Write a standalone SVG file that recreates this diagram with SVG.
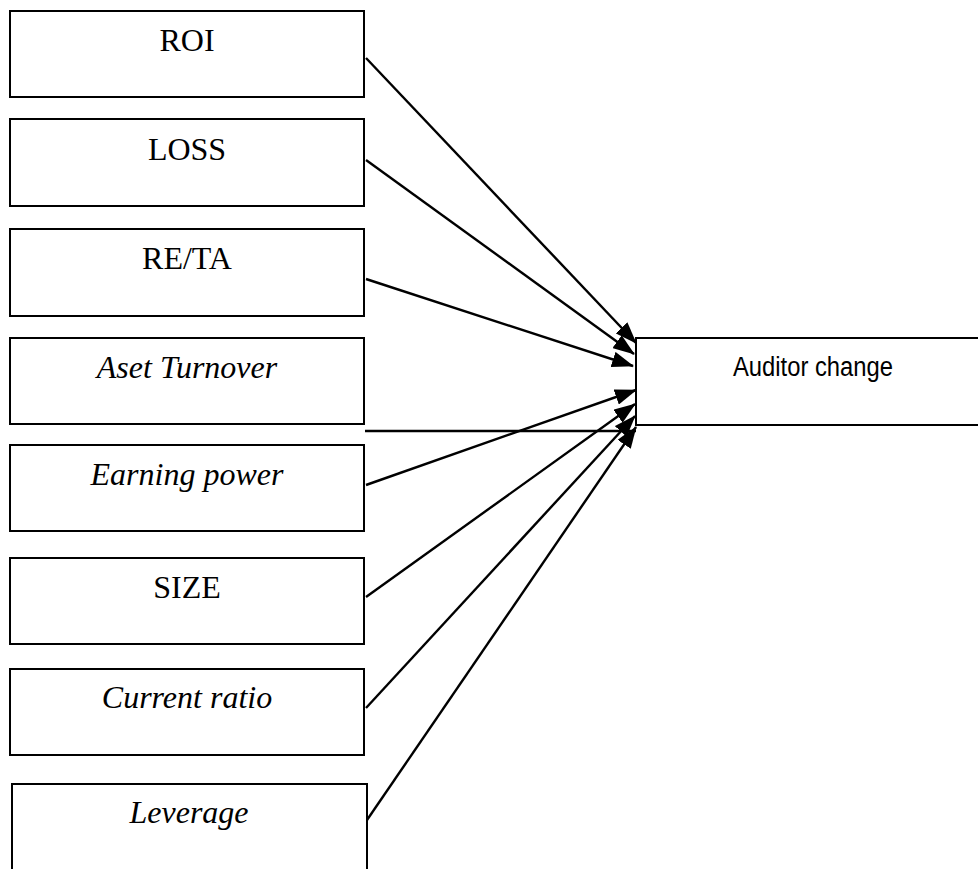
<svg xmlns="http://www.w3.org/2000/svg" width="978" height="869" viewBox="0 0 978 869">
<defs>
<style>
.box{fill:#fff;stroke:#000;stroke-width:2}
.t{font-family:"Liberation Serif","Times New Roman",serif;font-size:32px;fill:#000;text-anchor:middle}
.i{font-style:italic}
.s{font-family:"Liberation Sans Narrow","Liberation Sans",Arial,sans-serif;font-size:27px;fill:#000;text-anchor:middle}
.c{stroke:#000;stroke-width:2.4;fill:none}
</style>
<marker id="ah" markerUnits="userSpaceOnUse" viewBox="0 0 22 16" markerWidth="22" markerHeight="16" refX="21" refY="8" orient="auto">
<path d="M0,0 L22,8 L0,16 z" fill="#000"/>
</marker>
</defs>
<rect width="978" height="869" fill="#fff"/>
<g id="n-roi"><rect class="box" x="10" y="11" width="354" height="86"/><text class="t" x="187" y="51">ROI</text></g>
<g id="n-loss"><rect class="box" x="10" y="119" width="354" height="87"/><text class="t" x="187" y="160">LOSS</text></g>
<g id="n-reta"><rect class="box" x="10" y="229" width="354" height="87"/><text class="t" x="187" y="269">RE/TA</text></g>
<g id="n-aset"><rect class="box" x="10" y="338" width="354" height="86"/><text class="t i" x="187" y="378">Aset Turnover</text></g>
<g id="n-earning"><rect class="box" x="10" y="445" width="354" height="86"/><text class="t i" x="187" y="485">Earning power</text></g>
<g id="n-size"><rect class="box" x="10" y="558" width="354" height="86"/><text class="t" x="187" y="598">SIZE</text></g>
<g id="n-current"><rect class="box" x="10" y="669" width="354" height="86"/><text class="t i" x="187" y="708">Current ratio</text></g>
<g id="n-leverage"><rect class="box" x="12" y="784" width="355" height="100"/><text class="t i" x="189" y="823">Leverage</text></g>
<g id="n-auditor"><rect class="box" x="636" y="338" width="360" height="87"/><text class="s" x="813" y="376" textLength="160" lengthAdjust="spacingAndGlyphs">Auditor change</text></g>
<g id="connectors">
<line class="c" x1="366" y1="58" x2="636" y2="343" marker-end="url(#ah)"/>
<line class="c" x1="366" y1="160" x2="634" y2="354" marker-end="url(#ah)"/>
<line class="c" x1="366" y1="279" x2="633" y2="366" marker-end="url(#ah)"/>
<line class="c" x1="365" y1="431" x2="636" y2="431"/>
<line class="c" x1="366" y1="485" x2="636" y2="390" marker-end="url(#ah)"/>
<line class="c" x1="366" y1="597" x2="635" y2="404" marker-end="url(#ah)"/>
<line class="c" x1="366" y1="708" x2="635" y2="416" marker-end="url(#ah)"/>
<line class="c" x1="367" y1="820" x2="636" y2="427" marker-end="url(#ah)"/>
</g>
</svg>
